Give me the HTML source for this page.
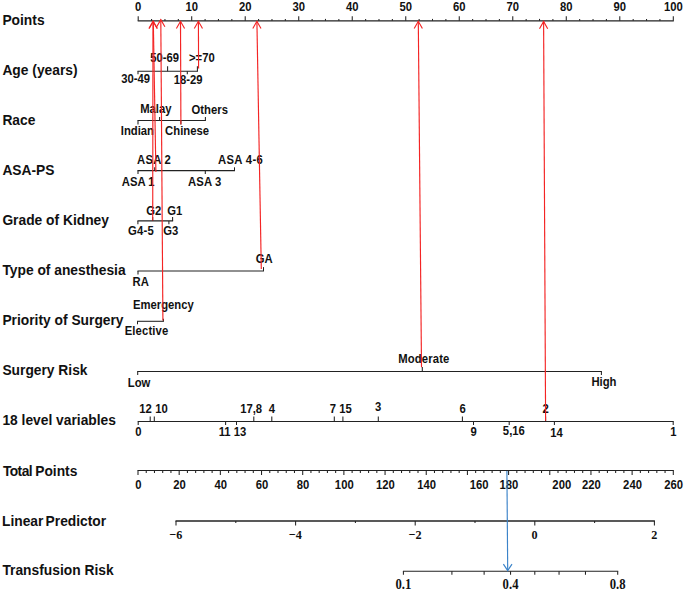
<!DOCTYPE html>
<html><head><meta charset="utf-8"><title>Nomogram</title>
<style>html,body{margin:0;padding:0;background:#fff;}svg{display:block;}</style>
</head><body>
<svg width="685" height="591" viewBox="0 0 685 591">
<style>
text{fill:#111;}
.t{font-family:"Liberation Sans",sans-serif;font-weight:bold;}
.s{font-family:"Liberation Sans",sans-serif;font-weight:bold;}
.r{font-family:"Liberation Serif",serif;font-weight:bold;}
</style>
<rect width="685" height="591" fill="#fff"/>
<text x="2.40" y="25.00" class="t" font-size="13.8" text-anchor="start">Points</text>
<text x="2.40" y="75.00" class="t" font-size="13.8" text-anchor="start">Age (years)</text>
<text x="2.40" y="125.00" class="t" font-size="13.8" text-anchor="start">Race</text>
<text x="2.40" y="175.00" class="t" font-size="13.8" text-anchor="start">ASA-PS</text>
<text x="2.40" y="225.00" class="t" font-size="13.8" text-anchor="start">Grade of Kidney</text>
<text x="2.40" y="275.00" class="t" font-size="13.8" text-anchor="start">Type of anesthesia</text>
<text x="2.40" y="325.00" class="t" font-size="13.8" text-anchor="start">Priority of Surgery</text>
<text x="2.40" y="375.30" class="t" font-size="13.8" text-anchor="start">Surgery Risk</text>
<text x="2.40" y="425.20" class="t" font-size="13.8" text-anchor="start">18 level variables</text>
<text x="2.90" y="476.00" class="t" font-size="13.8" text-anchor="start" letter-spacing="-0.55">Total</text>
<text x="35.20" y="476.00" class="t" font-size="13.8" text-anchor="start">Points</text>
<text x="2.00" y="526.00" class="t" font-size="13.8" text-anchor="start">Linear</text>
<text x="45.60" y="526.00" class="t" font-size="13.8" text-anchor="start">Predictor</text>
<text x="2.40" y="574.70" class="t" font-size="13.8" text-anchor="start">Transfusion Risk</text>
<line x1="137.70" y1="20.80" x2="673.80" y2="20.80" stroke="#222" stroke-width="1.3"/>
<line x1="138.20" y1="20.80" x2="138.20" y2="16.30" stroke="#222" stroke-width="1.05"/>
<text transform="translate(138.20,10.90) scale(1,1.09)" class="s" font-size="11.3" text-anchor="middle">0</text>
<line x1="151.58" y1="20.80" x2="151.58" y2="18.90" stroke="#222" stroke-width="1.05"/>
<line x1="164.95" y1="20.80" x2="164.95" y2="18.90" stroke="#222" stroke-width="1.05"/>
<line x1="178.33" y1="20.80" x2="178.33" y2="18.90" stroke="#222" stroke-width="1.05"/>
<line x1="191.71" y1="20.80" x2="191.71" y2="16.30" stroke="#222" stroke-width="1.05"/>
<text transform="translate(191.71,10.90) scale(1,1.09)" class="s" font-size="11.3" text-anchor="middle">10</text>
<line x1="205.09" y1="20.80" x2="205.09" y2="18.90" stroke="#222" stroke-width="1.05"/>
<line x1="218.46" y1="20.80" x2="218.46" y2="18.90" stroke="#222" stroke-width="1.05"/>
<line x1="231.84" y1="20.80" x2="231.84" y2="18.90" stroke="#222" stroke-width="1.05"/>
<line x1="245.22" y1="20.80" x2="245.22" y2="16.30" stroke="#222" stroke-width="1.05"/>
<text transform="translate(245.22,10.90) scale(1,1.09)" class="s" font-size="11.3" text-anchor="middle">20</text>
<line x1="258.60" y1="20.80" x2="258.60" y2="18.90" stroke="#222" stroke-width="1.05"/>
<line x1="271.97" y1="20.80" x2="271.97" y2="18.90" stroke="#222" stroke-width="1.05"/>
<line x1="285.35" y1="20.80" x2="285.35" y2="18.90" stroke="#222" stroke-width="1.05"/>
<line x1="298.73" y1="20.80" x2="298.73" y2="16.30" stroke="#222" stroke-width="1.05"/>
<text transform="translate(298.73,10.90) scale(1,1.09)" class="s" font-size="11.3" text-anchor="middle">30</text>
<line x1="312.11" y1="20.80" x2="312.11" y2="18.90" stroke="#222" stroke-width="1.05"/>
<line x1="325.48" y1="20.80" x2="325.48" y2="18.90" stroke="#222" stroke-width="1.05"/>
<line x1="338.86" y1="20.80" x2="338.86" y2="18.90" stroke="#222" stroke-width="1.05"/>
<line x1="352.24" y1="20.80" x2="352.24" y2="16.30" stroke="#222" stroke-width="1.05"/>
<text transform="translate(352.24,10.90) scale(1,1.09)" class="s" font-size="11.3" text-anchor="middle">40</text>
<line x1="365.62" y1="20.80" x2="365.62" y2="18.90" stroke="#222" stroke-width="1.05"/>
<line x1="378.99" y1="20.80" x2="378.99" y2="18.90" stroke="#222" stroke-width="1.05"/>
<line x1="392.37" y1="20.80" x2="392.37" y2="18.90" stroke="#222" stroke-width="1.05"/>
<line x1="405.75" y1="20.80" x2="405.75" y2="16.30" stroke="#222" stroke-width="1.05"/>
<text transform="translate(405.75,10.90) scale(1,1.09)" class="s" font-size="11.3" text-anchor="middle">50</text>
<line x1="419.13" y1="20.80" x2="419.13" y2="18.90" stroke="#222" stroke-width="1.05"/>
<line x1="432.50" y1="20.80" x2="432.50" y2="18.90" stroke="#222" stroke-width="1.05"/>
<line x1="445.88" y1="20.80" x2="445.88" y2="18.90" stroke="#222" stroke-width="1.05"/>
<line x1="459.26" y1="20.80" x2="459.26" y2="16.30" stroke="#222" stroke-width="1.05"/>
<text transform="translate(459.26,10.90) scale(1,1.09)" class="s" font-size="11.3" text-anchor="middle">60</text>
<line x1="472.64" y1="20.80" x2="472.64" y2="18.90" stroke="#222" stroke-width="1.05"/>
<line x1="486.01" y1="20.80" x2="486.01" y2="18.90" stroke="#222" stroke-width="1.05"/>
<line x1="499.39" y1="20.80" x2="499.39" y2="18.90" stroke="#222" stroke-width="1.05"/>
<line x1="512.77" y1="20.80" x2="512.77" y2="16.30" stroke="#222" stroke-width="1.05"/>
<text transform="translate(512.77,10.90) scale(1,1.09)" class="s" font-size="11.3" text-anchor="middle">70</text>
<line x1="526.15" y1="20.80" x2="526.15" y2="18.90" stroke="#222" stroke-width="1.05"/>
<line x1="539.52" y1="20.80" x2="539.52" y2="18.90" stroke="#222" stroke-width="1.05"/>
<line x1="552.90" y1="20.80" x2="552.90" y2="18.90" stroke="#222" stroke-width="1.05"/>
<line x1="566.28" y1="20.80" x2="566.28" y2="16.30" stroke="#222" stroke-width="1.05"/>
<text transform="translate(566.28,10.90) scale(1,1.09)" class="s" font-size="11.3" text-anchor="middle">80</text>
<line x1="579.66" y1="20.80" x2="579.66" y2="18.90" stroke="#222" stroke-width="1.05"/>
<line x1="593.03" y1="20.80" x2="593.03" y2="18.90" stroke="#222" stroke-width="1.05"/>
<line x1="606.41" y1="20.80" x2="606.41" y2="18.90" stroke="#222" stroke-width="1.05"/>
<line x1="619.79" y1="20.80" x2="619.79" y2="16.30" stroke="#222" stroke-width="1.05"/>
<text transform="translate(619.79,10.90) scale(1,1.09)" class="s" font-size="11.3" text-anchor="middle">90</text>
<line x1="633.17" y1="20.80" x2="633.17" y2="18.90" stroke="#222" stroke-width="1.05"/>
<line x1="646.54" y1="20.80" x2="646.54" y2="18.90" stroke="#222" stroke-width="1.05"/>
<line x1="659.92" y1="20.80" x2="659.92" y2="18.90" stroke="#222" stroke-width="1.05"/>
<line x1="673.30" y1="20.80" x2="673.30" y2="16.30" stroke="#222" stroke-width="1.05"/>
<text transform="translate(673.30,10.90) scale(1,1.09)" class="s" font-size="11.3" text-anchor="middle">100</text>
<line x1="137.50" y1="71.20" x2="197.90" y2="71.20" stroke="#222" stroke-width="1.05"/>
<line x1="138.00" y1="71.20" x2="138.00" y2="74.30" stroke="#222" stroke-width="1.05"/>
<line x1="167.60" y1="71.20" x2="167.60" y2="66.20" stroke="#222" stroke-width="1.05"/>
<line x1="187.30" y1="71.20" x2="187.30" y2="74.30" stroke="#222" stroke-width="1.05"/>
<line x1="197.40" y1="71.20" x2="197.40" y2="66.20" stroke="#222" stroke-width="1.05"/>
<text transform="translate(164.70,62.20) scale(1,1.09)" class="s" font-size="11.3" text-anchor="middle">50-69</text>
<text transform="translate(201.85,62.00) scale(1,1.09)" class="s" font-size="11.3" text-anchor="middle">&gt;=70</text>
<text transform="translate(135.70,82.80) scale(1,1.09)" class="s" font-size="11.3" text-anchor="middle">30-49</text>
<text transform="translate(188.10,83.60) scale(1,1.09)" class="s" font-size="11.3" text-anchor="middle">18-29</text>
<line x1="137.50" y1="120.50" x2="205.90" y2="120.50" stroke="#222" stroke-width="1.05"/>
<line x1="138.00" y1="120.50" x2="138.00" y2="124.40" stroke="#222" stroke-width="1.05"/>
<line x1="159.60" y1="120.50" x2="159.60" y2="117.10" stroke="#222" stroke-width="1.05"/>
<line x1="180.90" y1="120.50" x2="180.90" y2="124.40" stroke="#222" stroke-width="1.05"/>
<line x1="205.40" y1="120.50" x2="205.40" y2="117.10" stroke="#222" stroke-width="1.05"/>
<text transform="translate(155.85,113.00) scale(1,1.09)" class="s" font-size="11.3" text-anchor="middle">Malay</text>
<text transform="translate(209.75,113.80) scale(1,1.09)" class="s" font-size="11.3" text-anchor="middle">Others</text>
<text transform="translate(137.35,134.50) scale(1,1.09)" class="s" font-size="11.3" text-anchor="middle">Indian</text>
<text transform="translate(187.05,134.50) scale(1,1.09)" class="s" font-size="11.3" text-anchor="middle">Chinese</text>
<line x1="137.50" y1="170.60" x2="235.00" y2="170.60" stroke="#222" stroke-width="1.05"/>
<line x1="138.00" y1="170.60" x2="138.00" y2="174.10" stroke="#222" stroke-width="1.05"/>
<line x1="154.70" y1="170.60" x2="154.70" y2="167.30" stroke="#222" stroke-width="1.05"/>
<line x1="205.30" y1="170.60" x2="205.30" y2="174.10" stroke="#222" stroke-width="1.05"/>
<line x1="234.50" y1="170.60" x2="234.50" y2="167.30" stroke="#222" stroke-width="1.05"/>
<text transform="translate(154.00,164.00) scale(1,1.09)" class="s" font-size="11.3" text-anchor="middle" letter-spacing="0.2">ASA 2</text>
<text transform="translate(240.55,164.00) scale(1,1.09)" class="s" font-size="11.3" text-anchor="middle" letter-spacing="0.3">ASA 4-6</text>
<text transform="translate(138.25,185.80) scale(1,1.09)" class="s" font-size="11.3" text-anchor="middle">ASA 1</text>
<text transform="translate(204.72,185.80) scale(1,1.09)" class="s" font-size="11.3" text-anchor="middle" letter-spacing="0.15">ASA 3</text>
<line x1="137.40" y1="220.90" x2="173.10" y2="220.90" stroke="#222" stroke-width="1.3"/>
<line x1="137.90" y1="220.90" x2="137.90" y2="224.30" stroke="#222" stroke-width="1.05"/>
<line x1="152.70" y1="220.90" x2="152.70" y2="217.10" stroke="#222" stroke-width="1.05"/>
<line x1="168.90" y1="220.90" x2="168.90" y2="224.30" stroke="#222" stroke-width="1.05"/>
<line x1="172.60" y1="220.90" x2="172.60" y2="217.10" stroke="#222" stroke-width="1.05"/>
<text transform="translate(153.70,214.60) scale(1,1.09)" class="s" font-size="11.3" text-anchor="middle">G2</text>
<text transform="translate(174.85,214.60) scale(1,1.09)" class="s" font-size="11.3" text-anchor="middle">G1</text>
<text transform="translate(141.00,235.00) scale(1,1.09)" class="s" font-size="11.3" text-anchor="middle" letter-spacing="0.2">G4-5</text>
<text transform="translate(170.80,235.00) scale(1,1.09)" class="s" font-size="11.3" text-anchor="middle">G3</text>
<line x1="137.50" y1="271.00" x2="264.00" y2="271.00" stroke="#222" stroke-width="1.2"/>
<line x1="138.00" y1="271.00" x2="138.00" y2="274.50" stroke="#222" stroke-width="1.05"/>
<line x1="263.50" y1="271.00" x2="263.50" y2="267.10" stroke="#222" stroke-width="1.05"/>
<text transform="translate(264.20,262.90) scale(1,1.09)" class="s" font-size="11.3" text-anchor="middle">GA</text>
<text transform="translate(140.75,285.90) scale(1,1.09)" class="s" font-size="11.3" text-anchor="middle">RA</text>
<line x1="137.00" y1="321.30" x2="163.90" y2="321.30" stroke="#222" stroke-width="1.05"/>
<line x1="137.50" y1="321.30" x2="137.50" y2="324.30" stroke="#222" stroke-width="1.05"/>
<line x1="163.40" y1="321.30" x2="163.40" y2="318.70" stroke="#222" stroke-width="1.05"/>
<text transform="translate(163.35,308.80) scale(1,1.09)" class="s" font-size="11.3" text-anchor="middle">Emergency</text>
<text transform="translate(146.51,335.40) scale(1,1.09)" class="s" font-size="11.3" text-anchor="middle" letter-spacing="0.12">Elective</text>
<line x1="137.20" y1="371.50" x2="601.90" y2="371.50" stroke="#222" stroke-width="1.05"/>
<line x1="137.70" y1="371.50" x2="137.70" y2="374.90" stroke="#222" stroke-width="1.05"/>
<line x1="422.30" y1="371.50" x2="422.30" y2="366.90" stroke="#222" stroke-width="1.05"/>
<line x1="601.40" y1="371.50" x2="601.40" y2="374.90" stroke="#222" stroke-width="1.05"/>
<text transform="translate(423.87,363.00) scale(1,1.09)" class="s" font-size="11.3" text-anchor="middle" letter-spacing="0.15">Moderate</text>
<text transform="translate(139.10,386.70) scale(1,1.09)" class="s" font-size="11.3" text-anchor="middle">Low</text>
<text transform="translate(603.95,386.30) scale(1,1.09)" class="s" font-size="11.3" text-anchor="middle">High</text>
<line x1="137.70" y1="421.50" x2="673.70" y2="421.50" stroke="#222" stroke-width="1.05"/>
<line x1="138.20" y1="421.50" x2="138.20" y2="425.00" stroke="#222" stroke-width="1.05"/>
<line x1="150.20" y1="421.50" x2="150.20" y2="416.60" stroke="#222" stroke-width="1.05"/>
<line x1="154.30" y1="421.50" x2="154.30" y2="416.60" stroke="#222" stroke-width="1.05"/>
<line x1="225.60" y1="421.50" x2="225.60" y2="425.00" stroke="#222" stroke-width="1.05"/>
<line x1="236.50" y1="421.50" x2="236.50" y2="425.00" stroke="#222" stroke-width="1.05"/>
<line x1="253.80" y1="421.50" x2="253.80" y2="416.60" stroke="#222" stroke-width="1.05"/>
<line x1="271.80" y1="421.50" x2="271.80" y2="416.60" stroke="#222" stroke-width="1.05"/>
<line x1="334.30" y1="421.50" x2="334.30" y2="416.60" stroke="#222" stroke-width="1.05"/>
<line x1="342.90" y1="421.50" x2="342.90" y2="416.60" stroke="#222" stroke-width="1.05"/>
<line x1="378.30" y1="421.50" x2="378.30" y2="416.60" stroke="#222" stroke-width="1.05"/>
<line x1="462.40" y1="421.50" x2="462.40" y2="416.60" stroke="#222" stroke-width="1.05"/>
<line x1="473.50" y1="421.50" x2="473.50" y2="425.00" stroke="#222" stroke-width="1.05"/>
<line x1="509.20" y1="421.50" x2="509.20" y2="425.00" stroke="#222" stroke-width="1.05"/>
<line x1="545.60" y1="421.50" x2="545.60" y2="416.60" stroke="#222" stroke-width="1.05"/>
<line x1="554.40" y1="421.50" x2="554.40" y2="425.00" stroke="#222" stroke-width="1.05"/>
<line x1="673.20" y1="421.50" x2="673.20" y2="425.00" stroke="#222" stroke-width="1.05"/>
<text transform="translate(145.50,412.50) scale(1,1.09)" class="s" font-size="11.3" text-anchor="middle">12</text>
<text transform="translate(161.50,412.50) scale(1,1.09)" class="s" font-size="11.3" text-anchor="middle">10</text>
<text transform="translate(251.15,412.50) scale(1,1.09)" class="s" font-size="11.3" text-anchor="middle">17,8</text>
<text transform="translate(271.90,412.50) scale(1,1.09)" class="s" font-size="11.3" text-anchor="middle">4</text>
<text transform="translate(332.85,412.50) scale(1,1.09)" class="s" font-size="11.3" text-anchor="middle">7</text>
<text transform="translate(345.55,412.50) scale(1,1.09)" class="s" font-size="11.3" text-anchor="middle">15</text>
<text transform="translate(378.25,410.50) scale(1,1.09)" class="s" font-size="11.3" text-anchor="middle">3</text>
<text transform="translate(462.55,412.50) scale(1,1.09)" class="s" font-size="11.3" text-anchor="middle">6</text>
<text transform="translate(545.65,412.50) scale(1,1.09)" class="s" font-size="11.3" text-anchor="middle">2</text>
<text transform="translate(138.35,436.30) scale(1,1.09)" class="s" font-size="11.3" text-anchor="middle">0</text>
<text transform="translate(224.60,436.30) scale(1,1.09)" class="s" font-size="11.3" text-anchor="middle">11</text>
<text transform="translate(239.90,436.30) scale(1,1.09)" class="s" font-size="11.3" text-anchor="middle">13</text>
<text transform="translate(473.70,436.00) scale(1,1.09)" class="s" font-size="11.3" text-anchor="middle">9</text>
<text transform="translate(513.85,435.00) scale(1,1.09)" class="s" font-size="11.3" text-anchor="middle">5,16</text>
<text transform="translate(556.60,436.80) scale(1,1.09)" class="s" font-size="11.3" text-anchor="middle">14</text>
<text transform="translate(673.35,436.30) scale(1,1.09)" class="s" font-size="11.3" text-anchor="middle">1</text>
<line x1="137.50" y1="470.50" x2="673.80" y2="470.50" stroke="#222" stroke-width="1.05"/>
<line x1="138.00" y1="470.50" x2="138.00" y2="475.10" stroke="#222" stroke-width="1.05"/>
<text transform="translate(138.40,488.50) scale(1,1.09)" class="s" font-size="11.3" text-anchor="middle">0</text>
<line x1="146.24" y1="470.50" x2="146.24" y2="472.90" stroke="#222" stroke-width="1.05"/>
<line x1="154.47" y1="470.50" x2="154.47" y2="472.90" stroke="#222" stroke-width="1.05"/>
<line x1="162.71" y1="470.50" x2="162.71" y2="472.90" stroke="#222" stroke-width="1.05"/>
<line x1="170.94" y1="470.50" x2="170.94" y2="472.90" stroke="#222" stroke-width="1.05"/>
<line x1="179.18" y1="470.50" x2="179.18" y2="475.10" stroke="#222" stroke-width="1.05"/>
<text transform="translate(179.58,488.50) scale(1,1.09)" class="s" font-size="11.3" text-anchor="middle">20</text>
<line x1="187.41" y1="470.50" x2="187.41" y2="472.90" stroke="#222" stroke-width="1.05"/>
<line x1="195.65" y1="470.50" x2="195.65" y2="472.90" stroke="#222" stroke-width="1.05"/>
<line x1="203.88" y1="470.50" x2="203.88" y2="472.90" stroke="#222" stroke-width="1.05"/>
<line x1="212.12" y1="470.50" x2="212.12" y2="472.90" stroke="#222" stroke-width="1.05"/>
<line x1="220.35" y1="470.50" x2="220.35" y2="475.10" stroke="#222" stroke-width="1.05"/>
<text transform="translate(220.75,488.50) scale(1,1.09)" class="s" font-size="11.3" text-anchor="middle">40</text>
<line x1="228.59" y1="470.50" x2="228.59" y2="472.90" stroke="#222" stroke-width="1.05"/>
<line x1="236.82" y1="470.50" x2="236.82" y2="472.90" stroke="#222" stroke-width="1.05"/>
<line x1="245.06" y1="470.50" x2="245.06" y2="472.90" stroke="#222" stroke-width="1.05"/>
<line x1="253.30" y1="470.50" x2="253.30" y2="472.90" stroke="#222" stroke-width="1.05"/>
<line x1="261.53" y1="470.50" x2="261.53" y2="475.10" stroke="#222" stroke-width="1.05"/>
<text transform="translate(261.93,488.50) scale(1,1.09)" class="s" font-size="11.3" text-anchor="middle">60</text>
<line x1="269.77" y1="470.50" x2="269.77" y2="472.90" stroke="#222" stroke-width="1.05"/>
<line x1="278.00" y1="470.50" x2="278.00" y2="472.90" stroke="#222" stroke-width="1.05"/>
<line x1="286.24" y1="470.50" x2="286.24" y2="472.90" stroke="#222" stroke-width="1.05"/>
<line x1="294.47" y1="470.50" x2="294.47" y2="472.90" stroke="#222" stroke-width="1.05"/>
<line x1="302.71" y1="470.50" x2="302.71" y2="475.10" stroke="#222" stroke-width="1.05"/>
<text transform="translate(303.11,488.50) scale(1,1.09)" class="s" font-size="11.3" text-anchor="middle">80</text>
<line x1="310.94" y1="470.50" x2="310.94" y2="472.90" stroke="#222" stroke-width="1.05"/>
<line x1="319.18" y1="470.50" x2="319.18" y2="472.90" stroke="#222" stroke-width="1.05"/>
<line x1="327.41" y1="470.50" x2="327.41" y2="472.90" stroke="#222" stroke-width="1.05"/>
<line x1="335.65" y1="470.50" x2="335.65" y2="472.90" stroke="#222" stroke-width="1.05"/>
<line x1="343.88" y1="470.50" x2="343.88" y2="475.10" stroke="#222" stroke-width="1.05"/>
<text transform="translate(344.28,488.50) scale(1,1.09)" class="s" font-size="11.3" text-anchor="middle">100</text>
<line x1="352.12" y1="470.50" x2="352.12" y2="472.90" stroke="#222" stroke-width="1.05"/>
<line x1="360.36" y1="470.50" x2="360.36" y2="472.90" stroke="#222" stroke-width="1.05"/>
<line x1="368.59" y1="470.50" x2="368.59" y2="472.90" stroke="#222" stroke-width="1.05"/>
<line x1="376.83" y1="470.50" x2="376.83" y2="472.90" stroke="#222" stroke-width="1.05"/>
<line x1="385.06" y1="470.50" x2="385.06" y2="475.10" stroke="#222" stroke-width="1.05"/>
<text transform="translate(385.46,488.50) scale(1,1.09)" class="s" font-size="11.3" text-anchor="middle">120</text>
<line x1="393.30" y1="470.50" x2="393.30" y2="472.90" stroke="#222" stroke-width="1.05"/>
<line x1="401.53" y1="470.50" x2="401.53" y2="472.90" stroke="#222" stroke-width="1.05"/>
<line x1="409.77" y1="470.50" x2="409.77" y2="472.90" stroke="#222" stroke-width="1.05"/>
<line x1="418.00" y1="470.50" x2="418.00" y2="472.90" stroke="#222" stroke-width="1.05"/>
<line x1="426.24" y1="470.50" x2="426.24" y2="475.10" stroke="#222" stroke-width="1.05"/>
<text transform="translate(426.64,488.50) scale(1,1.09)" class="s" font-size="11.3" text-anchor="middle">140</text>
<line x1="434.47" y1="470.50" x2="434.47" y2="472.90" stroke="#222" stroke-width="1.05"/>
<line x1="442.71" y1="470.50" x2="442.71" y2="472.90" stroke="#222" stroke-width="1.05"/>
<line x1="450.94" y1="470.50" x2="450.94" y2="472.90" stroke="#222" stroke-width="1.05"/>
<line x1="459.18" y1="470.50" x2="459.18" y2="472.90" stroke="#222" stroke-width="1.05"/>
<line x1="467.42" y1="470.50" x2="467.42" y2="475.10" stroke="#222" stroke-width="1.05"/>
<text transform="translate(479.22,488.50) scale(1,1.09)" class="s" font-size="11.3" text-anchor="middle">160</text>
<line x1="475.65" y1="470.50" x2="475.65" y2="472.90" stroke="#222" stroke-width="1.05"/>
<line x1="483.89" y1="470.50" x2="483.89" y2="472.90" stroke="#222" stroke-width="1.05"/>
<line x1="492.12" y1="470.50" x2="492.12" y2="472.90" stroke="#222" stroke-width="1.05"/>
<line x1="500.36" y1="470.50" x2="500.36" y2="472.90" stroke="#222" stroke-width="1.05"/>
<line x1="508.59" y1="470.50" x2="508.59" y2="475.10" stroke="#222" stroke-width="1.05"/>
<text transform="translate(508.99,488.50) scale(1,1.09)" class="s" font-size="11.3" text-anchor="middle">180</text>
<line x1="516.83" y1="470.50" x2="516.83" y2="472.90" stroke="#222" stroke-width="1.05"/>
<line x1="525.06" y1="470.50" x2="525.06" y2="472.90" stroke="#222" stroke-width="1.05"/>
<line x1="533.30" y1="470.50" x2="533.30" y2="472.90" stroke="#222" stroke-width="1.05"/>
<line x1="541.53" y1="470.50" x2="541.53" y2="472.90" stroke="#222" stroke-width="1.05"/>
<line x1="549.77" y1="470.50" x2="549.77" y2="475.10" stroke="#222" stroke-width="1.05"/>
<text transform="translate(561.77,488.50) scale(1,1.09)" class="s" font-size="11.3" text-anchor="middle">200</text>
<line x1="558.00" y1="470.50" x2="558.00" y2="472.90" stroke="#222" stroke-width="1.05"/>
<line x1="566.24" y1="470.50" x2="566.24" y2="472.90" stroke="#222" stroke-width="1.05"/>
<line x1="574.48" y1="470.50" x2="574.48" y2="472.90" stroke="#222" stroke-width="1.05"/>
<line x1="582.71" y1="470.50" x2="582.71" y2="472.90" stroke="#222" stroke-width="1.05"/>
<line x1="590.95" y1="470.50" x2="590.95" y2="475.10" stroke="#222" stroke-width="1.05"/>
<text transform="translate(591.35,488.50) scale(1,1.09)" class="s" font-size="11.3" text-anchor="middle">220</text>
<line x1="599.18" y1="470.50" x2="599.18" y2="472.90" stroke="#222" stroke-width="1.05"/>
<line x1="607.42" y1="470.50" x2="607.42" y2="472.90" stroke="#222" stroke-width="1.05"/>
<line x1="615.65" y1="470.50" x2="615.65" y2="472.90" stroke="#222" stroke-width="1.05"/>
<line x1="623.89" y1="470.50" x2="623.89" y2="472.90" stroke="#222" stroke-width="1.05"/>
<line x1="632.12" y1="470.50" x2="632.12" y2="475.10" stroke="#222" stroke-width="1.05"/>
<text transform="translate(632.52,488.50) scale(1,1.09)" class="s" font-size="11.3" text-anchor="middle">240</text>
<line x1="640.36" y1="470.50" x2="640.36" y2="472.90" stroke="#222" stroke-width="1.05"/>
<line x1="648.59" y1="470.50" x2="648.59" y2="472.90" stroke="#222" stroke-width="1.05"/>
<line x1="656.83" y1="470.50" x2="656.83" y2="472.90" stroke="#222" stroke-width="1.05"/>
<line x1="665.06" y1="470.50" x2="665.06" y2="472.90" stroke="#222" stroke-width="1.05"/>
<line x1="673.30" y1="470.50" x2="673.30" y2="475.10" stroke="#222" stroke-width="1.05"/>
<text transform="translate(673.70,488.50) scale(1,1.09)" class="s" font-size="11.3" text-anchor="middle">260</text>
<line x1="175.50" y1="521.00" x2="654.90" y2="521.00" stroke="#222" stroke-width="1.3"/>
<line x1="176.00" y1="521.00" x2="176.00" y2="525.60" stroke="#222" stroke-width="1.05"/>
<text transform="translate(175.80,538.60) scale(1,1.1)" class="r" font-size="12.2" text-anchor="middle">&#8722;6</text>
<line x1="235.80" y1="521.00" x2="235.80" y2="523.00" stroke="#222" stroke-width="1.05"/>
<line x1="295.60" y1="521.00" x2="295.60" y2="525.60" stroke="#222" stroke-width="1.05"/>
<text transform="translate(295.40,538.60) scale(1,1.1)" class="r" font-size="12.2" text-anchor="middle">&#8722;4</text>
<line x1="355.40" y1="521.00" x2="355.40" y2="523.00" stroke="#222" stroke-width="1.05"/>
<line x1="415.20" y1="521.00" x2="415.20" y2="525.60" stroke="#222" stroke-width="1.05"/>
<text transform="translate(415.00,538.60) scale(1,1.1)" class="r" font-size="12.2" text-anchor="middle">&#8722;2</text>
<line x1="475.00" y1="521.00" x2="475.00" y2="523.00" stroke="#222" stroke-width="1.05"/>
<line x1="534.80" y1="521.00" x2="534.80" y2="525.60" stroke="#222" stroke-width="1.05"/>
<text transform="translate(534.60,538.60) scale(1,1.1)" class="r" font-size="12.2" text-anchor="middle">0</text>
<line x1="594.60" y1="521.00" x2="594.60" y2="523.00" stroke="#222" stroke-width="1.05"/>
<line x1="654.40" y1="521.00" x2="654.40" y2="525.60" stroke="#222" stroke-width="1.05"/>
<text transform="translate(654.20,538.60) scale(1,1.1)" class="r" font-size="12.2" text-anchor="middle">2</text>
<line x1="402.91" y1="571.30" x2="618.20" y2="571.30" stroke="#222" stroke-width="1.05"/>
<line x1="403.41" y1="571.30" x2="403.41" y2="574.70" stroke="#222" stroke-width="1.05"/>
<text transform="translate(403.41,588.70) scale(1,1.07)" class="r" font-size="12.7" text-anchor="middle">0.1</text>
<line x1="451.90" y1="571.30" x2="451.90" y2="574.70" stroke="#222" stroke-width="1.05"/>
<line x1="484.13" y1="571.30" x2="484.13" y2="574.70" stroke="#222" stroke-width="1.05"/>
<line x1="510.55" y1="571.30" x2="510.55" y2="574.70" stroke="#222" stroke-width="1.05"/>
<text transform="translate(510.55,588.70) scale(1,1.07)" class="r" font-size="12.7" text-anchor="middle">0.4</text>
<line x1="534.80" y1="571.30" x2="534.80" y2="574.70" stroke="#222" stroke-width="1.05"/>
<line x1="559.05" y1="571.30" x2="559.05" y2="574.70" stroke="#222" stroke-width="1.05"/>
<line x1="585.47" y1="571.30" x2="585.47" y2="574.70" stroke="#222" stroke-width="1.05"/>
<line x1="617.70" y1="571.30" x2="617.70" y2="574.70" stroke="#222" stroke-width="1.05"/>
<text transform="translate(617.70,588.70) scale(1,1.07)" class="r" font-size="12.7" text-anchor="middle">0.8</text>
<line x1="153.30" y1="21.30" x2="155.90" y2="172.00" stroke="#f42424" stroke-width="1.15"/>
<polyline points="149.20,28.50 153.30,21.30 157.40,28.50" fill="none" stroke="#f42424" stroke-width="1.15"/>
<line x1="153.00" y1="21.30" x2="152.70" y2="220.50" stroke="#f42424" stroke-width="1.15"/>
<polyline points="148.90,28.50 153.00,21.30 157.10,28.50" fill="none" stroke="#f42424" stroke-width="1.15"/>
<line x1="160.80" y1="19.60" x2="162.90" y2="320.60" stroke="#f42424" stroke-width="1.15"/>
<polyline points="156.70,26.80 160.80,19.60 164.90,26.80" fill="none" stroke="#f42424" stroke-width="1.15"/>
<line x1="180.50" y1="21.30" x2="180.90" y2="124.50" stroke="#f42424" stroke-width="1.15"/>
<polyline points="176.40,28.50 180.50,21.30 184.60,28.50" fill="none" stroke="#f42424" stroke-width="1.15"/>
<line x1="198.40" y1="21.30" x2="198.60" y2="68.40" stroke="#f42424" stroke-width="1.15"/>
<polyline points="194.30,28.50 198.40,21.30 202.50,28.50" fill="none" stroke="#f42424" stroke-width="1.15"/>
<line x1="256.90" y1="21.30" x2="261.30" y2="269.10" stroke="#f42424" stroke-width="1.15"/>
<polyline points="252.80,28.50 256.90,21.30 261.00,28.50" fill="none" stroke="#f42424" stroke-width="1.15"/>
<line x1="418.30" y1="21.30" x2="421.50" y2="367.30" stroke="#f42424" stroke-width="1.15"/>
<polyline points="414.20,28.50 418.30,21.30 422.40,28.50" fill="none" stroke="#f42424" stroke-width="1.15"/>
<line x1="543.60" y1="21.50" x2="545.60" y2="420.80" stroke="#f42424" stroke-width="1.15"/>
<polyline points="539.50,28.70 543.60,21.50 547.70,28.70" fill="none" stroke="#f42424" stroke-width="1.15"/>
<line x1="506.90" y1="471.00" x2="507.70" y2="570.60" stroke="#3b83c9" stroke-width="1.15"/>
<polyline points="503.40,564.10 507.70,570.60 512.00,564.10" fill="none" stroke="#3b83c9" stroke-width="1.15"/>
</svg>
</body></html>
